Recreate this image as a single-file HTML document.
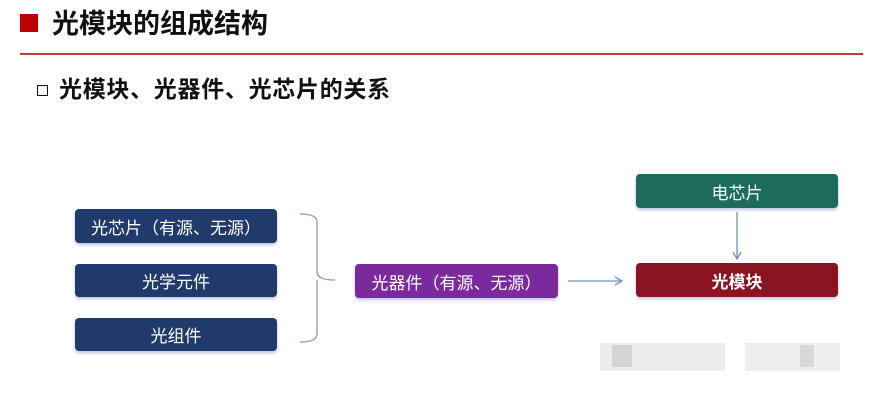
<!DOCTYPE html>
<html><head><meta charset="utf-8"><style>
body{margin:0;width:869px;height:400px;background:#fff;position:relative;overflow:hidden;font-family:"Liberation Sans","Noto Sans CJK SC",sans-serif}
.a{position:absolute}
.box{position:absolute;border-radius:4px;color:#fff;font-size:17px;display:flex;align-items:center;justify-content:center;box-shadow:0 2px 3px rgba(120,140,200,.5)}
.n{background:#1f3a6b}
</style></head><body>
<div class="a" style="left:20px;top:14px;width:18px;height:18px;background:#c00000"></div>
<div class="a" style="left:52px;top:4px;font-size:27px;font-weight:bold;color:#111;line-height:40px">光模块的组成结构</div>
<div class="a" style="left:20px;top:53px;width:843px;height:2px;background:#c83a3a"></div>
<div class="a" style="left:37px;top:85px;width:9px;height:9px;border:1.5px solid #111"></div>
<div class="a" style="left:59px;top:74px;font-size:23px;font-weight:bold;color:#111;line-height:30px;letter-spacing:0.7px">光模块、光器件、光芯片的关系</div>
<div class="box n" style="left:75px;top:209px;width:202px;height:34px">光芯片（有源、无源）</div>
<div class="box n" style="left:75px;top:264px;width:202px;height:33px">光学元件</div>
<div class="box n" style="left:75px;top:318px;width:202px;height:33px">光组件</div>
<div class="box" style="left:355px;top:264px;width:203px;height:34px;background:#7b2a9e">光器件（有源、无源）</div>
<div class="box" style="left:636px;top:174px;width:202px;height:34px;background:#1d6b5c">电芯片</div>
<div class="box" style="left:636px;top:263px;width:202px;height:34px;background:#8c1420;font-weight:bold">光模块</div>
<svg class="a" style="left:0;top:0" width="869" height="400">
<path d="M300 214 Q317 214 317 222 L317 272 Q317 280 335 280 M317 280 Q317 288 317 296 L317 334 Q317 342 300 342" fill="none" stroke="#8a9cc0" stroke-width="1.3"/>
<path d="M568 281 L621 281 M615 277 L622 281 L615 285" fill="none" stroke="#6f8fc8" stroke-width="1.3"/>
<path d="M737 212 L737 258 M733 252 L737 259 L741 252" fill="none" stroke="#6f8fc8" stroke-width="1.3"/>
<rect x="600" y="343" width="125" height="28" fill="#ececec"/>
<rect x="612" y="345" width="20" height="22" fill="#d4d4d4"/>
<rect x="745" y="343" width="95" height="28" fill="#eeeeee"/>
<rect x="800" y="345" width="14" height="22" fill="#d8d8d8"/>
</svg>
</body></html>
